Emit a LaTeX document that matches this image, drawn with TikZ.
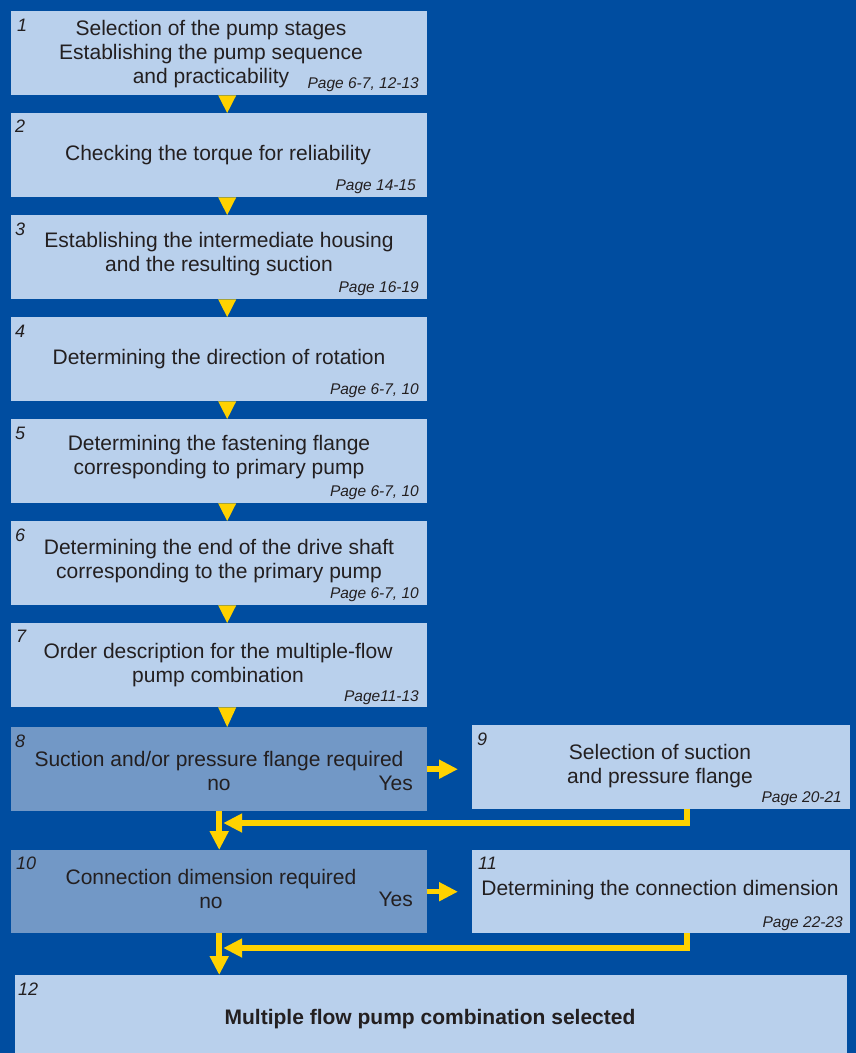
\documentclass[tikz,border=0pt]{standalone}
\usepackage{fontspec}
\setmainfont{Liberation Sans}
\usepackage[usenames]{xcolor}
\usepackage{tikz}
\usetikzlibrary{positioning}
\usetikzlibrary{arrows.meta}
\definecolor{flowback}{RGB}{0,77,160}
\definecolor{flowbox}{RGB}{185,208,236}
\definecolor{flowquery}{RGB}{114,152,198}
\definecolor{flowyellow}{RGB}{255,210,0}
\definecolor{flowink}{RGB}{35,31,32}
\tikzset{my_chart/.style={x=1pt,y=-1pt,line join=miter}}
\tikzset{my_box/.style={rectangle, fill=flowbox, anchor=north west, minimum width=416pt, minimum height=84pt}}
\tikzset{my_query/.style={my_box, fill=flowquery}}
\tikzset{my_text/.style={align=center, anchor=base, font=\fontsize{21}{24}\selectfont}}
\tikzset{my_number/.style={anchor=base west, font=\fontsize{18}{18}\selectfont\itshape}}
\tikzset{my_page/.style={anchor=base east, font=\fontsize{15.5}{16}\selectfont\itshape}}
\tikzset{my_flow/.style={draw=flowyellow, line width=5.5pt, -{Triangle[length=19pt,width=18pt]}}}
\tikzset{my_wedge/.style={fill=flowyellow}}

\begin{document}
\begin{tikzpicture}[my_chart]
    \tikzstyle{every node}=[inner sep=0pt, text=flowink]
    %\draw[help lines, step=50] (0,0) grid (856,1053);
    \useasboundingbox (0,0) rectangle (856,1053);
    \fill[flowback] (0,0) rectangle (856,1053);

    \foreach \i in {1,...,7}
        \node[my_box] (b\i) at (11,{11+102*(\i-1)}) {};
    \node[my_query] (b8) at (11,727) {};
    \node[my_box, minimum width=378pt] (b9) at (472,725) {};
    \node[my_query, minimum height=83pt] (b10) at (11,850) {};
    \node[my_box, minimum width=378pt, minimum height=83pt] (b11) at (472,850) {};
    \node[my_box, minimum width=832pt, minimum height=78pt] (b12) at (15,975) {};

    % base of a text node = baseline of its last line
    \node[my_text] (t1) at (211,83) {Selection of the pump stages\\Establishing the pump sequence\\and practicability};
    \node[my_text] (t2) at (218,160) {Checking the torque for reliability};
    \node[my_text] (t3) at (219,271) {Establishing the intermediate housing\\and the resulting suction};
    \node[my_text] (t4) at (219,364) {Determining the direction of rotation};
    \node[my_text] (t5) at (219,474) {Determining the fastening flange\\corresponding to primary pump};
    \node[my_text] (t6) at (219,578) {Determining the end of the drive shaft\\corresponding to the primary pump};
    \node[my_text] (t7) at (218,682) {Order description for the multiple-flow\\pump combination};
    \node[my_text] (t8) at (219,790) {Suction and/or pressure flange required\\no};
    \node[my_text] (t9) at (660,783) {Selection of suction\\and pressure flange};
    \node[my_text] (t10) at (211,908) {Connection dimension required\\no};
    \node[my_text] (t11) at (660,895) {Determining the connection dimension};
    \node[my_text, font=\fontsize{21}{24}\selectfont\bfseries] (t12) at (430,1024) {Multiple flow pump combination selected};

    \node[my_text, anchor=base east] (y8) at (413,790) {Yes};
    \node[my_text, anchor=base east] (y10) at (413,906) {Yes};

    \node[my_number] (n1) at (17,31) {1};
    \node[my_number] (n2) at (15,132) {2};
    \node[my_number] (n3) at (15,235) {3};
    \node[my_number] (n4) at (15,337) {4};
    \node[my_number] (n5) at (15,439) {5};
    \node[my_number] (n6) at (15,541) {6};
    \node[my_number] (n7) at (16,642) {7};
    \node[my_number] (n8) at (15,747) {8};
    \node[my_number] (n9) at (477,745) {9};
    \node[my_number] (n10) at (16,869) {10};
    \node[my_number] (n11) at (478,869) {11};
    \node[my_number] (n12) at (18,995) {12};

    \node[my_page] (p1) at (419,88) {Page 6-7, 12-13};
    \node[my_page] (p2) at (416,190) {Page 14-15};
    \node[my_page] (p3) at (419,292) {Page 16-19};
    \node[my_page] (p4) at (419,394) {Page 6-7, 10};
    \node[my_page] (p5) at (419,496) {Page 6-7, 10};
    \node[my_page] (p6) at (419,598) {Page 6-7, 10};
    \node[my_page] (p7) at (419,701) {Page11-13};
    \node[my_page] (p9) at (842,802) {Page 20-21};
    \node[my_page] (p11) at (843,927) {Page 22-23};

    \foreach \a/\b in {1/2,2/3,3/4,4/5,5/6,6/7,7/8}
        \fill[my_wedge] ([xshift=-1pt]b\a.south) -- ([xshift=17pt]b\a.south) -- ([xshift=8pt]b\b.north) -- cycle;

    \coordinate (k9) at (687,823);
    \coordinate (k11) at (687,948);
    \draw[my_flow, shorten >=14pt] (b8.east) -- (b8.east -| b9.west);
    \draw[my_flow, shorten >=14pt] (b10.east) -- (b10.east -| b11.west);
    \draw[my_flow] (b8.south) -- (b10.north);
    \draw[my_flow] (b10.south) -- (b10.south |- b12.north);
    \draw[my_flow, shorten >=4pt] (b9.south -| k9) -- (k9) -- (k9 -| b8.south);
    \draw[my_flow, shorten >=4pt] (b11.south -| k11) -- (k11) -- (k11 -| b10.south);
\end{tikzpicture}
\end{document}
